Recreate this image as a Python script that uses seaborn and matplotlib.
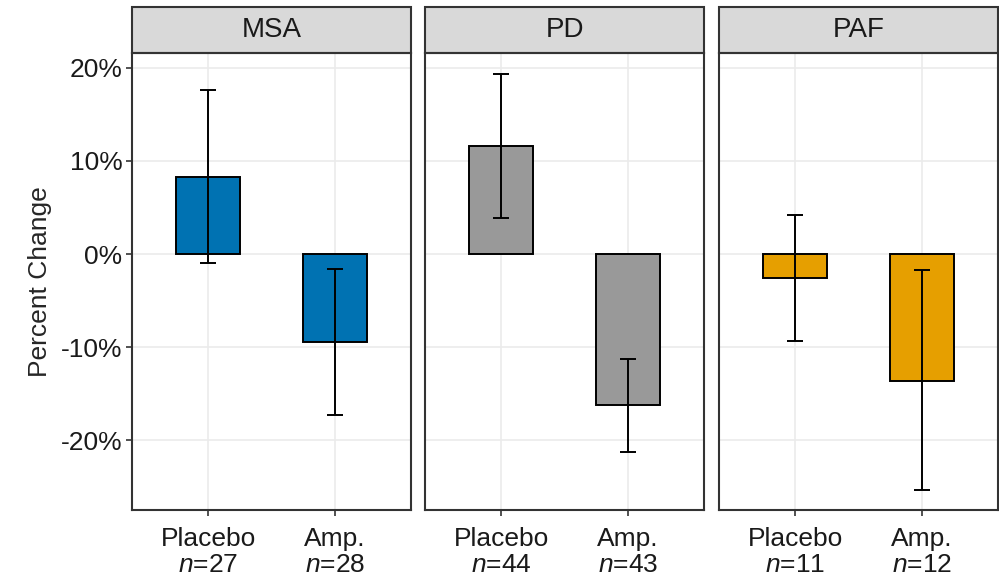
import numpy as np
import pandas as pd
import seaborn as sns
import matplotlib.pyplot as plt
from matplotlib.patches import Rectangle

# values (percent change)
groups = ['MSA', 'PD', 'PAF']
treatments = ['Placebo', 'Amp.']
n_sizes = [[27, 28], [44, 43], [11, 12]]
mean_change = [[8.3, -9.5], [11.6, -16.2], [-2.6, -13.6]]
err_low = [[-1.0, -17.3], [3.9, -21.3], [-9.3, -25.4]]
err_high = [[17.6, -1.6], [19.3, -11.3], [4.2, -1.7]]
group_colors = ['#0072B2', '#999999', '#E69F00']

sns.set_theme(style='white')
plt.rcParams['font.family'] = ['Liberation Sans', 'DejaVu Sans']
plt.rcParams['mathtext.fontset'] = 'custom'
plt.rcParams['mathtext.it'] = 'Liberation Sans:italic'
plt.rcParams['mathtext.rm'] = 'Liberation Sans'

fig = plt.figure(figsize=(9.99, 5.8), dpi=100)
ax_w, ax_h = 279 / 999, 457 / 580
lefts = [132 / 999, 425 / 999, 719 / 999]
bottom = 70 / 580

for i, grp in enumerate(groups):
    ax = fig.add_axes([lefts[i], bottom, ax_w, ax_h])
    df = pd.DataFrame({'treatment': treatments, 'change': mean_change[i]})
    sns.barplot(data=df, x='treatment', y='change', color=group_colors[i],
                saturation=1, width=0.5, edgecolor='black', linewidth=1.4,
                errorbar=None, ax=ax, zorder=2)
    pos = np.arange(len(treatments))
    mean = np.array(mean_change[i])
    yerr = [mean - np.array(err_low[i]), np.array(err_high[i]) - mean]
    ax.errorbar(pos, mean, yerr=yerr, fmt='none', ecolor='black',
                elinewidth=1.4, capsize=5.5, capthick=1.4, zorder=3)

    ax.set_xlim(-0.6, 1.6)
    ax.set_ylim(-27.5, 21.6)
    ax.set_yticks([-20, -10, 0, 10, 20])
    ax.grid(True, color='#EBEBEB', linewidth=1.2, zorder=0)
    ax.set_axisbelow(True)
    ax.set_xticks(pos)
    ax.set_xticklabels([f'{t}\n$n$={n}' for t, n in zip(treatments, n_sizes[i])],
                       fontsize=19, linespacing=1.12)
    ax.set_xlabel('')
    for s in ax.spines.values():
        s.set_color('#333333')
        s.set_linewidth(1.5)
    ax.tick_params(axis='both', which='major', length=4, width=1.2,
                   color='#333333', labelcolor='#1A1A1A', pad=3)
    ax.tick_params(axis='x', bottom=True, pad=8)
    if i == 0:
        ax.set_yticklabels([f'{v}%' for v in [-20, -10, 0, 10, 20]], fontsize=19)
        ax.tick_params(axis='y', left=True)
        ax.set_ylabel('Percent Change', fontsize=19, labelpad=6)
    else:
        ax.set_yticklabels([])
        ax.tick_params(axis='y', left=False)
        ax.set_ylabel('')

    # facet strip
    strip = Rectangle((0, 1), 1, 0.1007, transform=ax.transAxes,
                      facecolor='#D9D9D9', edgecolor='#333333', linewidth=1.5,
                      clip_on=False)
    ax.add_patch(strip)
    ax.text(0.5, 1.05, grp, transform=ax.transAxes, ha='center', va='center',
            fontsize=20, color='#1A1A1A')

fig.savefig('out.png', dpi=100)
